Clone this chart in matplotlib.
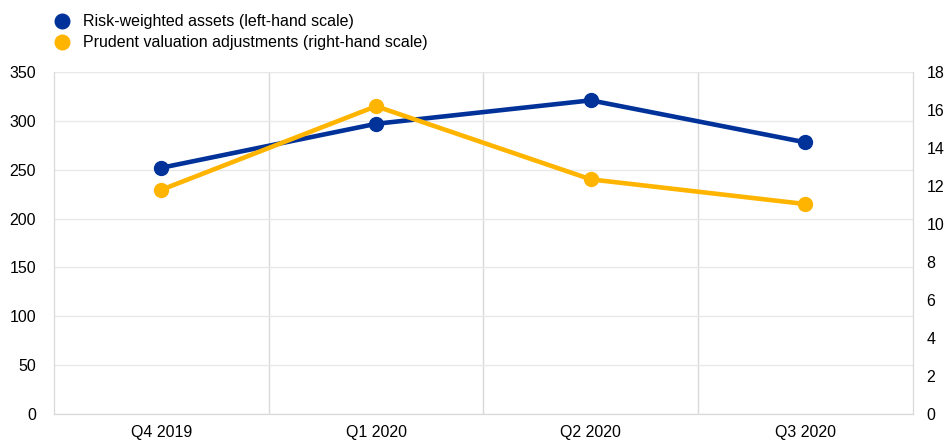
import matplotlib.pyplot as plt
from matplotlib.lines import Line2D

plt.rcParams["font.family"] = ["Liberation Sans", "DejaVu Sans"]

quarters = ["Q4 2019", "Q1 2020", "Q2 2020", "Q3 2020"]
rwa = [252, 297, 321, 278]
pva = [11.8, 16.2, 12.35, 11.05]

BLUE = "#003299"
YELLOW = "#FFB400"
HGRID = "#e8e8e8"
VGRID = "#d9d9d9"

fig = plt.figure(figsize=(9.44, 4.41), dpi=100)
ax = fig.add_axes([0.0572, 0.0612, 0.9098, 0.7755])
ax2 = ax.twinx()

x = list(range(len(quarters)))
ax.plot(x, rwa, color=BLUE, lw=3.3, marker="o", ms=10, zorder=3)
ax2.plot(x, pva, color=YELLOW, lw=3.3, marker="o", ms=10, zorder=3)

ax.set_xlim(-0.5, len(quarters) - 0.5)
ax.set_ylim(0, 350)
ax2.set_ylim(0, 18)
ax.set_yticks(range(0, 351, 50))
ax2.set_yticks(range(0, 19, 2))
ax.set_xticks(x)
ax.set_xticklabels(quarters)

# vertical separators between quarters
ax.set_xticks([i + 0.5 for i in x[:-1]], minor=True)
ax.grid(True, which="minor", axis="x", color=VGRID, lw=1)
ax.grid(True, which="major", axis="y", color=HGRID, lw=1)
ax.set_axisbelow(True)

for a in (ax, ax2):
    for s in a.spines.values():
        s.set_color(VGRID)
    a.spines["top"].set_visible(False)
    a.tick_params(length=0, labelsize=11.5, colors="black")
ax.tick_params(axis="y", pad=13)
ax.tick_params(axis="x", pad=8)
ax2.tick_params(axis="y", pad=10)
ax.tick_params(which="minor", length=0)

handles = [
    Line2D([], [], color=BLUE, marker="o", ls="", ms=10.5),
    Line2D([], [], color=YELLOW, marker="o", ls="", ms=10.5),
]
labels = ["Risk-weighted assets (left-hand scale)",
          "Prudent valuation adjustments (right-hand scale)"]
fig.legend(handles, labels, loc="upper left", bbox_to_anchor=(0.038, 1.0),
           frameon=False, fontsize=11.5, handletextpad=0.55, labelspacing=0.38,
           handlelength=1.5)

fig.savefig("out.png", dpi=100)
plt.close(fig)
